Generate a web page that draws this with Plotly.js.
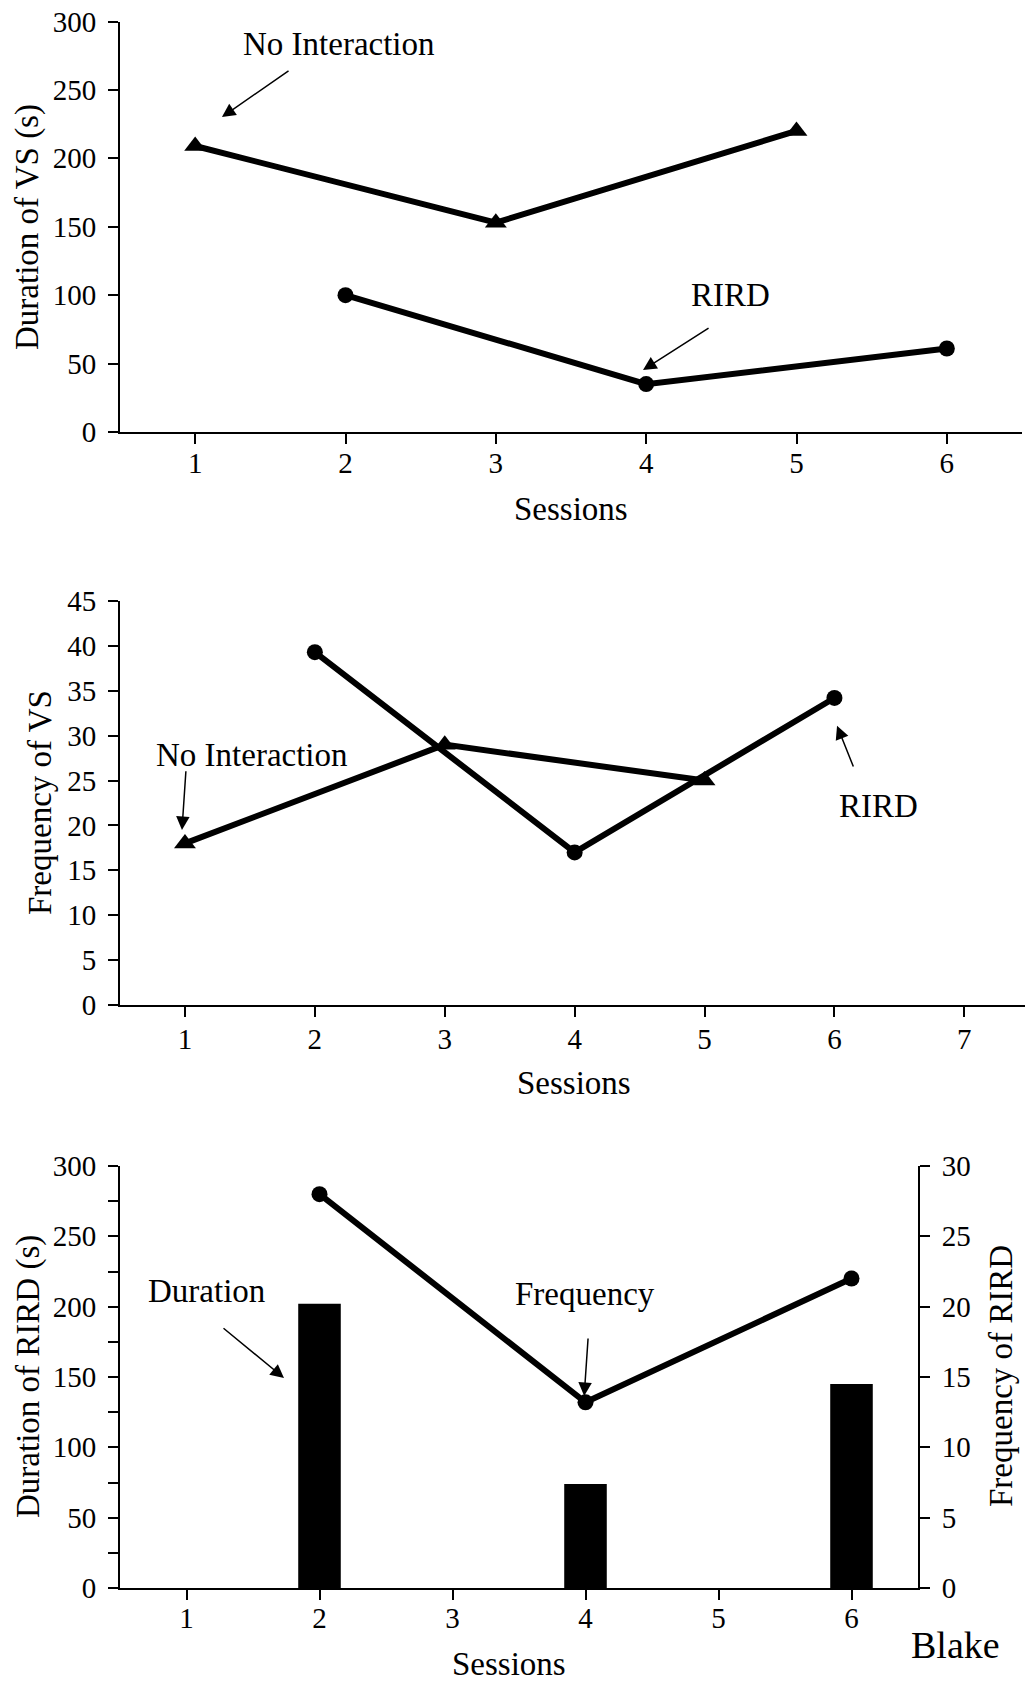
<!DOCTYPE html>
<html>
<head>
<meta charset="utf-8">
<script src="https://cdn.plot.ly/plotly-3.0.1.min.js"></script>
<style>html,body{margin:0;padding:0;background:#fff;}#chart{width:1025px;height:1681px;}</style>
</head>
<body>
<div id="chart"></div>
<script>
// ---- data ----
const sessionTicks6 = [1, 2, 3, 4, 5, 6];
const sessionTicks7 = [1, 2, 3, 4, 5, 6, 7];
const noInteractionSessions = [1, 3, 5];
const rirdSessions = [2, 4, 6];
const vsDurationNoInteraction = [209, 153, 220];
const vsDurationRIRD = [100, 35, 61];
const vsFrequencyNoInteraction = [18, 29, 25];
const vsFrequencyRIRD = [39.3, 17, 34.2];
const rirdDuration = [202, 74, 145];
const rirdFrequency = [28, 13.2, 22];
const durTicks = [0, 50, 100, 150, 200, 250, 300];
const freqVsTicks = [0, 5, 10, 15, 20, 25, 30, 35, 40, 45];
const freqRirdTicks = [0, 5, 10, 15, 20, 25, 30];

// ---- layout helpers ----
const W = 1025, H = 1681;
const FONT = 'Liberation Serif, Times New Roman, serif';
const px = v => v / W;
const py = v => 1 - v / H;

function axisBase(extra) {
  return Object.assign({
    showgrid: false, zeroline: false, showline: true,
    linecolor: '#000', linewidth: 2,
    ticks: 'outside', ticklen: 10, tickwidth: 2, tickcolor: '#000',
    tickfont: {family: FONT, size: 29, color: '#000'},
    fixedrange: true, automargin: false
  }, extra);
}

const lineStyle = {color: '#000', width: 6};
const triMarker = {symbol: 'triangle-up', size: 19, color: '#000'};
const dotMarker = {symbol: 'circle', size: 16, color: '#000'};

const traces = [
  // Chart 1
  {x: noInteractionSessions, y: vsDurationNoInteraction, xaxis: 'x', yaxis: 'y', type: 'scatter', mode: 'lines+markers',
   line: lineStyle, marker: triMarker, cliponaxis: false, name: 'No Interaction'},
  {x: rirdSessions, y: vsDurationRIRD, xaxis: 'x', yaxis: 'y', type: 'scatter', mode: 'lines+markers',
   line: lineStyle, marker: dotMarker, cliponaxis: false, name: 'RIRD'},
  // Chart 2
  {x: noInteractionSessions, y: vsFrequencyNoInteraction, xaxis: 'x2', yaxis: 'y2', type: 'scatter', mode: 'lines+markers',
   line: lineStyle, marker: triMarker, cliponaxis: false, name: 'No Interaction'},
  {x: rirdSessions, y: vsFrequencyRIRD, xaxis: 'x2', yaxis: 'y2', type: 'scatter', mode: 'lines+markers',
   line: lineStyle, marker: dotMarker, cliponaxis: false, name: 'RIRD'},
  // Chart 3
  {x: rirdSessions, y: rirdDuration, xaxis: 'x3', yaxis: 'y3', type: 'bar', width: 0.32,
   marker: {color: '#000', line: {width: 0}}, name: 'Duration'},
  {x: rirdSessions, y: rirdFrequency, xaxis: 'x3', yaxis: 'y4', type: 'scatter', mode: 'lines+markers',
   line: lineStyle, marker: dotMarker, cliponaxis: false, name: 'Frequency'}
];

const textFont = {family: FONT, size: 33, color: '#000'};
function label(text, xref, yref, x, y, size) {
  return {text: text, xref: xref, yref: yref, x: x, y: y, showarrow: false,
          xanchor: 'center', yanchor: 'middle', font: Object.assign({}, textFont, size ? {size: size} : {})};
}
function arrow(xr, yr, x, y, ax, ay) {
  return {text: '', xref: xr, yref: yr, axref: xr, ayref: yr, x: x, y: y, ax: ax, ay: ay,
          showarrow: true, arrowhead: 2, arrowsize: 1.8, arrowwidth: 1.5, arrowcolor: '#000',
          standoff: 0, startstandoff: 0};
}
function ytitle(text, x, y, angle) {
  return {text: text, xref: 'paper', yref: 'paper', x: x, y: y, showarrow: false, textangle: angle,
          xanchor: 'center', yanchor: 'middle', font: textFont};
}

const annotations = [
  // chart 1
  label('No Interaction', 'x', 'y', 1.957, 283.6),
  arrow('x', 'y', 1.178, 230.2, 1.631, 264.6),
  label('RIRD', 'x', 'y', 4.558, 100.1),
  arrow('x', 'y', 3.979, 45.3, 4.425, 76.7),
  ytitle('Duration of VS (s)', px(27), py(227), -90),
  label('Sessions', 'paper', 'paper', px(571), py(509)),
  // chart 2
  label('No Interaction', 'x2', 'y2', 1.516, 27.85),
  arrow('x2', 'y2', 0.977, 19.5, 1.008, 26.2),
  label('RIRD', 'x2', 'y2', 6.343, 22.2),
  arrow('x2', 'y2', 6.02, 31.1, 6.15, 26.4),
  ytitle('Frequency of VS', px(40), py(803), -90),
  label('Sessions', 'paper', 'paper', px(574), py(1083)),
  // chart 3
  label('Duration', 'x3', 'y3', 1.154, 211.1),
  arrow('x3', 'y3', 1.733, 149.3, 1.267, 185.5),
  label('Frequency', 'x3', 'y3', 3.996, 209),
  arrow('x3', 'y3', 3.99, 136.5, 4.02, 178.4),
  ytitle('Duration of RIRD (s)', px(28), py(1377), -90),
  ytitle('Frequency of RIRD', px(1001), py(1376), -90),
  label('Sessions', 'paper', 'paper', px(509), py(1664)),
  label('Blake', 'paper', 'paper', px(955), py(1645), 38)
];

const layout = {
  width: W, height: H,
  margin: {l: 0, r: 0, t: 0, b: 0, pad: 0},
  paper_bgcolor: '#fff', plot_bgcolor: '#fff',
  showlegend: false,
  font: {family: FONT, color: '#000'},
  xaxis: axisBase({domain: [px(120), px(1022)], range: [0.5, 6.5], tickvals: sessionTicks6, anchor: 'y', ticklabelstandoff: -6}),
  yaxis: axisBase({domain: [py(432), py(21.5)], range: [0, 300], tickvals: durTicks, anchor: 'x', ticklabelstandoff: 6}),
  xaxis2: axisBase({domain: [px(120), 1], range: [0.5, 7.467], tickvals: sessionTicks7, anchor: 'y2', ticklabelstandoff: -3}),
  yaxis2: axisBase({domain: [py(1005), py(601)], range: [0, 45], tickvals: freqVsTicks, anchor: 'x2', ticklabelstandoff: 6}),
  xaxis3: axisBase({domain: [px(120), px(918)], range: [0.5, 6.5], tickvals: sessionTicks6, anchor: 'y3', ticklabelstandoff: -7}),
  yaxis3: axisBase({domain: [py(1588), py(1166)], range: [0, 300], tickvals: durTicks, anchor: 'x3', ticklabelstandoff: 6,
                    minor: {dtick: 25, ticks: 'outside', ticklen: 10, tickwidth: 2, tickcolor: '#000', showgrid: false}}),
  yaxis4: axisBase({domain: [py(1588), py(1166)], range: [0, 30], tickvals: freqRirdTicks, anchor: 'x3', overlaying: 'y3', side: 'right', ticklabelstandoff: 6}),
  annotations: annotations
};

Plotly.newPlot('chart', traces, layout, {displayModeBar: false, staticPlot: true});
</script>
</body>
</html>
